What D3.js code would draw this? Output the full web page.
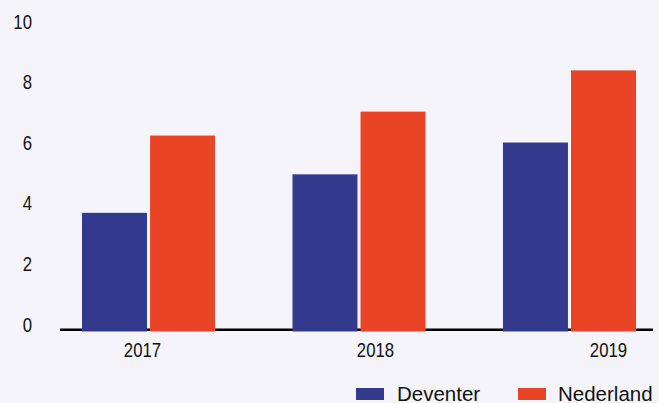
<!DOCTYPE html>
<html>
<head>
<meta charset="utf-8">
<script src="https://cdn.jsdelivr.net/npm/d3@7"></script>
<style>
    html, body { margin: 0; padding: 0; background: #f4f4fa; }
    svg { display: block; font-family: "Liberation Sans", Arial, sans-serif; }
    .tick text { fill: #111; font-size: 19.5px; }
    .legend-text { fill: #111; font-size: 20.5px; }
</style>
</head>
<body>
<svg id="chart" width="659" height="403"></svg>
<script>
var years = ['2017', '2018', '2019'];
var seriesNames = ['Deventer', 'Nederland'];
var deventer = [3.9, 5.17, 6.22];
var nederland = [6.45, 7.24, 8.6];
var yTicks = [0, 2, 4, 6, 8, 10];

var colors = { Deventer: '#333a8e', Nederland: '#e94425' };

var svg = d3.select('#chart');

// layout
var plotTop = 28, plotBottom = 331;
var squeeze = 0.86; // tick labels look condensed in the original

var yScale = d3.scaleLinear()
    .domain([0, 10])
    .range([plotBottom, plotTop]);

var xScale = d3.scaleBand()
    .domain(years)
    .range([82, 636])
    .paddingInner(0.368)
    .paddingOuter(0);

var xInner = d3.scaleBand()
    .domain(seriesNames)
    .range([0, xScale.bandwidth()])
    .paddingInner(0.045);

// the year labels don't sit under the group centres, so they get their own scale
var labelScale = d3.scalePoint()
    .domain(years)
    .range([142, 608]);

svg.append('rect')
    .attr('width', 659)
    .attr('height', 403)
    .attr('fill', '#f4f4fa');

// y axis (labels only)
var yAxis = svg.append('g')
    .attr('transform', 'translate(32,0)')
    .call(d3.axisLeft(yScale).tickValues(yTicks).tickSize(0).tickPadding(0));
yAxis.select('.domain').remove();
yAxis.selectAll('text')
    .attr('dy', 0)
    .attr('x', 0)
    .attr('transform', 'scale(' + squeeze + ',1)');

// baseline
svg.append('line')
    .attr('x1', 60)
    .attr('x2', 653)
    .attr('y1', yScale(0) - 1.3)
    .attr('y2', yScale(0) - 1.3)
    .attr('stroke', '#000')
    .attr('stroke-width', 2.6);

// bars
var rows = years.map(function (y, i) {
    return { year: y, values: [
        { name: 'Deventer', value: deventer[i] },
        { name: 'Nederland', value: nederland[i] }
    ] };
});

var groups = svg.append('g')
    .selectAll('g')
    .data(rows)
    .enter()
    .append('g')
    .attr('transform', d => `translate(${xScale(d.year)},0)`);

groups.selectAll('rect')
    .data(d => d.values)
    .enter()
    .append('rect')
    .attr('x', d => xInner(d.name))
    .attr('width', xInner.bandwidth())
    .attr('y', d => yScale(d.value))
    .attr('height', d => yScale(0) + 0.5 - yScale(d.value))
    .attr('fill', d => colors[d.name]);

// x axis labels
var xAxis = svg.append('g')
    .attr('transform', 'translate(0,357)')
    .call(d3.axisBottom(labelScale).tickSize(0).tickPadding(0));
xAxis.select('.domain').remove();
xAxis.selectAll('text')
    .attr('y', 0)
    .attr('dy', 0)
    .attr('transform', 'scale(' + squeeze + ',1)');

// legend
var legendX = [356, 518];
var legend = svg.append('g')
    .attr('id', 'legend');

var legendEntries = legend.selectAll('g')
    .data(seriesNames)
    .enter()
    .append('g')
    .attr('transform', (d, i) => `translate(${legendX[i]},388)`);

legendEntries.append('rect')
    .attr('width', 28)
    .attr('height', 12)
    .attr('fill', d => colors[d]);

legendEntries.append('text')
    .attr('x', (d, i) => i === 0 ? 41 : 40)
    .attr('y', 12.5)
    .classed('legend-text', true)
    .text(d => d);
</script>
</body>
</html>
